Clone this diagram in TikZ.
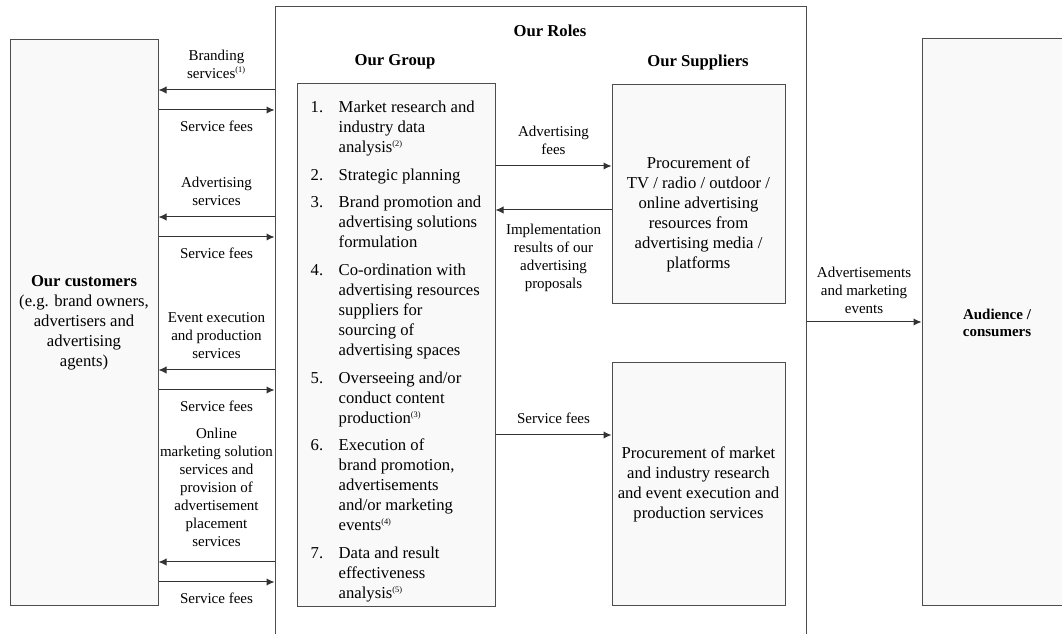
\documentclass[tikz,border=0pt]{standalone}
\usepackage{fontspec}
\setmainfont{Liberation Serif}
\usepackage{tikz}
\usetikzlibrary{shapes,arrows,arrows.meta}
\definecolor{boxline}{HTML}{4D4D4D}
\definecolor{boxfill}{HTML}{F9F9F9}
\definecolor{arrowline}{HTML}{333333}
\newcommand{\noteref}[1]{\textsuperscript{\tiny(#1)}}
\newcommand{\labelfont}{\fontsize{9}{10.8}\selectfont}
\tikzstyle{panel} = [rectangle, draw=boxline, fill=boxfill, line width=0.6pt, inner sep=0pt]
\tikzstyle{boxtext} = [align=center, font=\fontsize{10}{12}\selectfont]
\tikzstyle{heading} = [font=\bfseries]
\tikzstyle{flowlabel} = [align=center, font=\labelfont, inner xsep=3pt, inner ysep=6.5pt]
\tikzset{
  myarrow/.style={->, >={Latex[length=4.8pt,width=4.4pt]}, draw=arrowline, line width=0.6pt},
	}

\begin{document}
\begin{tikzpicture}[x=0.6pt, y=-0.6pt]
    \useasboundingbox (0,0) rectangle (1062,634);
    \clip (0,0) rectangle (1062,634);
    \node[panel, fill=white, minimum width=318.6pt, minimum height=391.8pt](roles) at (540.5,333.5){};
    \node[heading](rolestitle) at (550,31){Our Roles};
    \node[heading](grouptitle) at (395,62){Our Group};
    \node[heading](supptitle) at (698,62){Our Suppliers};
    \node[panel, boxtext, minimum width=88.8pt, minimum height=339.6pt](customers) at (84,323){\textbf{Our customers}\\(e.g. brand owners,\\advertisers and\\advertising\\agents)};
    \node[panel, minimum width=118.8pt, minimum height=313.8pt](group) at (396,345.5){};
    \node[font=\fontsize{10}{12}\selectfont](grouplist) at ([yshift=-3.6pt]group.center){%
      \begin{tabular}{@{}l@{\hspace{9.3pt}}l@{}}
        1. & Market research and\\
           & industry data\\
           & analysis\noteref{2}\\[4.6pt]
        2. & Strategic planning\\[4.6pt]
        3. & Brand promotion and\\
           & advertising solutions\\
           & formulation\\[4.6pt]
        4. & Co-ordination with\\
           & advertising resources\\
           & suppliers for\\
           & sourcing of\\
           & advertising spaces\\[4.6pt]
        5. & Overseeing and/or\\
           & conduct content\\
           & production\noteref{3}\\[4.6pt]
        6. & Execution of\\
           & brand promotion,\\
           & advertisements\\
           & and/or marketing\\
           & events\noteref{4}\\[4.6pt]
        7. & Data and result\\
           & effectiveness\\
           & analysis\noteref{5}
      \end{tabular}};
    \node[panel, minimum width=103.8pt, minimum height=131.4pt](media) at (698.5,194.5){};
    \node[boxtext](mediatext) at ([yshift=-11.7pt]media.center){Procurement of\\TV / radio / outdoor /\\online advertising\\resources from\\advertising media /\\platforms};
    \node[panel, boxtext, minimum width=103.8pt, minimum height=145.8pt](research) at (698.5,484.5){Procurement of market\\and industry research\\and event execution and\\production services};
    \node[panel, align=center, font=\fontsize{9}{10.2}\selectfont\bfseries, minimum width=90pt, minimum height=340.2pt](audience) at (997,322.5){Audience /\\consumers};
    \draw[myarrow](roles.west |- 0,90)--node[flowlabel, above](brandlbl){Branding\\services\noteref{1}}(customers.east |- 0,90);
    \draw[myarrow](customers.east |- 0,110)--node[flowlabel, below](fee1){Service fees}(roles.west |- 0,110);
    \draw[myarrow](roles.west |- 0,217)--node[flowlabel, above](advlbl){Advertising\\services}(customers.east |- 0,217);
    \draw[myarrow](customers.east |- 0,237)--node[flowlabel, below](fee2){Service fees}(roles.west |- 0,237);
    \draw[myarrow](roles.west |- 0,370)--node[flowlabel, above](eventlbl){Event execution\\and production\\services}(customers.east |- 0,370);
    \draw[myarrow](customers.east |- 0,390)--node[flowlabel, below](fee3){Service fees}(roles.west |- 0,390);
    \draw[myarrow](roles.west |- 0,562)--node[flowlabel, above, inner ysep=9pt](onlinelbl){Online\\marketing solution\\services and\\provision of\\advertisement\\placement\\services}(customers.east |- 0,562);
    \draw[myarrow](customers.east |- 0,582)--node[flowlabel, below](fee4){Service fees}(roles.west |- 0,582);
    \draw[myarrow](group.east |- 0,166)--node[flowlabel, above](adfeelbl){Advertising\\fees}(media.west |- 0,166);
    \draw[myarrow](media.west |- 0,210)--node[flowlabel, below, inner ysep=8pt](resultlbl){Implementation\\results of our\\advertising\\proposals}(group.east |- 0,210);
    \draw[myarrow](group.east |- 0,435)--node[flowlabel, above](fee5){Service fees}(research.west |- 0,435);
    \draw[myarrow](roles.east |- 0,322)--node[flowlabel, above, inner ysep=5pt](eventslbl){Advertisements\\and marketing\\events}(audience.west |- 0,322);
  \end{tikzpicture}
\end{document}
